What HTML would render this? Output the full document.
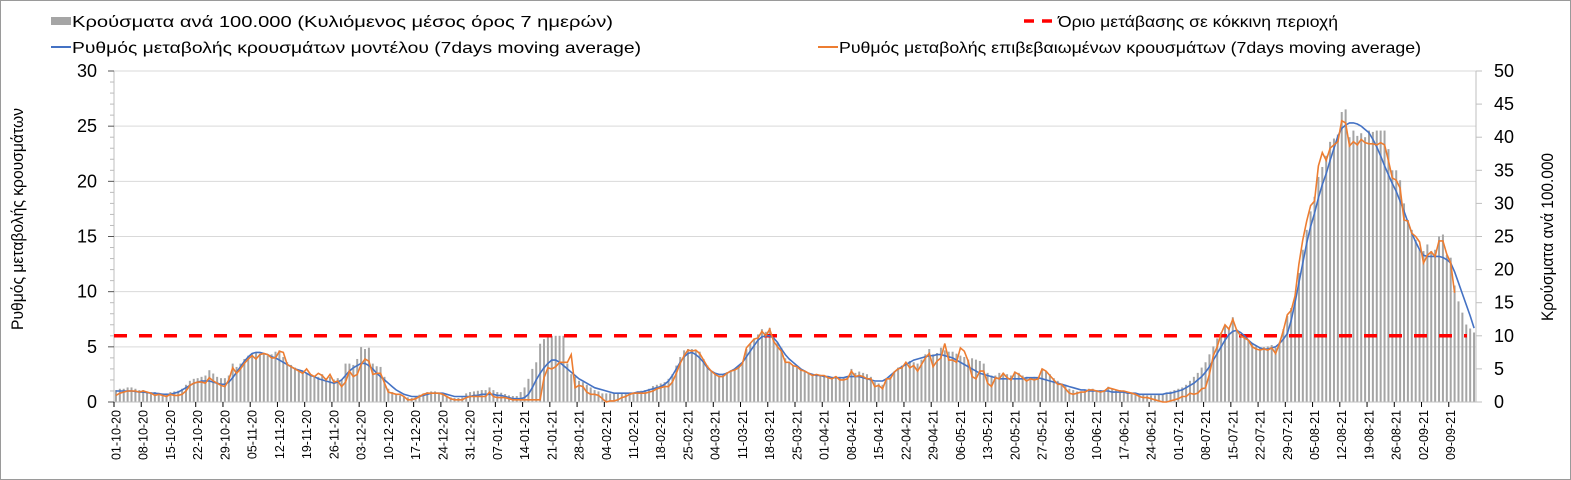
<!DOCTYPE html>
<html><head><meta charset="utf-8">
<style>
html,body{margin:0;padding:0;background:#fff;}
#wrap{position:relative;width:1571px;height:480px;box-sizing:border-box;border:1px solid #9a9a9a;overflow:hidden;font-family:"Liberation Sans",sans-serif;}
svg text{font-family:"Liberation Sans",sans-serif;}
</style></head>
<body>
<div id="wrap">
<svg id="chart" width="1571" height="480"></svg>
</div>
<script>
const blue=[1.0,1.0,1.0,1.0,1.0,0.95,0.9, 0.9,0.85,0.8,0.8,0.75,0.7,0.7, 0.7,0.8,0.9,1.1,1.3,1.5,1.7, 1.8,1.9,1.9,1.9,1.8,1.7,1.6, 1.6,1.8,2.2,2.7,3.2,3.7,4.1, 4.4,4.5,4.5,4.4,4.3,4.1,4.0, 3.8,3.6,3.4,3.2,3.0,2.9,2.8, 2.6,2.4,2.3,2.1,2.0,1.9,1.8, 1.7,1.8,2.0,2.4,2.8,3.1,3.3, 3.5,3.5,3.3,3.0,2.6,2.3,2.0, 1.7,1.4,1.1,0.9,0.7,0.6,0.5, 0.5,0.5,0.6,0.7,0.8,0.8,0.8, 0.8,0.7,0.6,0.5,0.5,0.5,0.5, 0.5,0.6,0.6,0.7,0.7,0.7,0.7, 0.6,0.6,0.5,0.4,0.3,0.3,0.3, 0.4,0.7,1.3,2.0,2.6,3.1,3.5, 3.8,3.8,3.6,3.3,3.0,2.7,2.4, 2.1,1.9,1.7,1.5,1.3,1.2,1.1, 1.0,0.9,0.8,0.8,0.8,0.8,0.8, 0.8,0.9,0.9,1.0,1.1,1.2,1.3, 1.4,1.6,1.9,2.4,3.0,3.6,4.1, 4.4,4.5,4.3,4.0,3.6,3.1,2.8, 2.6,2.5,2.5,2.6,2.8,3.0,3.3, 3.6,4.1,4.6,5.1,5.6,5.9,6.0, 6.0,5.8,5.4,4.8,4.3,3.9,3.6, 3.3,3.0,2.8,2.6,2.5,2.4,2.4, 2.3,2.3,2.2,2.2,2.2,2.2,2.3, 2.3,2.3,2.3,2.2,2.1,2.0,1.9, 1.9,1.9,2.1,2.4,2.7,3.0,3.2, 3.4,3.6,3.8,3.9,4.0,4.1,4.2, 4.2,4.3,4.3,4.2,4.1,4.0,3.8, 3.6,3.4,3.2,3.0,2.8,2.6,2.5, 2.4,2.3,2.2,2.1,2.1,2.1,2.1, 2.1,2.1,2.1,2.2,2.2,2.2,2.2, 2.1,2.0,1.9,1.8,1.7,1.6,1.5, 1.4,1.3,1.2,1.1,1.1,1.0,1.0, 1.0,1.0,1.0,1.0,0.9,0.9,0.9, 0.9,0.8,0.8,0.8,0.7,0.7,0.7, 0.7,0.7,0.7,0.7,0.8,0.8,0.9, 1.0,1.1,1.3,1.5,1.7,2.0,2.3, 2.7,3.2,3.8,4.4,5.0,5.6,6.1, 6.4,6.5,6.3,6.0,5.6,5.3,5.1, 4.9,4.8,4.8,4.9,5.0,5.3,5.7, 6.2,7.4,9.0,10.8,12.6,14.4,15.9, 17.1,18.5,19.7,20.7,21.9,23.0,24.1, 24.8,25.1,25.3,25.3,25.2,25.0,24.7, 24.4,23.8,23.1,22.3,21.4,20.6,19.8, 19.1,18.2,17.3,16.3,15.3,14.5,13.8, 13.3,13.2,13.2,13.2,13.2,13.1,12.9, 12.6,11.8,10.8,9.8,8.8,7.8,6.7];
const orange=[0.6,0.8,0.9,1.0,1.0,1.0,0.9, 1.0,0.9,0.8,0.6,0.7,0.6,0.5, 0.7,0.6,0.6,0.7,1.0,1.5,1.7, 1.8,1.8,1.7,2.2,1.9,1.7,1.5, 1.4,2.0,3.1,2.6,3.0,3.5,3.9, 4.2,3.9,4.3,4.4,4.3,4.0,4.0, 4.6,4.5,3.4,3.2,3.0,2.8,2.6, 3.0,2.5,2.3,2.6,2.4,2.0,2.5, 1.8,1.9,1.4,1.8,2.8,2.3,2.5, 3.4,3.9,3.7,2.5,2.6,2.6,1.7, 0.9,0.8,0.7,0.7,0.5,0.2,0.2, 0.3,0.5,0.7,0.8,0.8,0.8,0.8, 0.7,0.5,0.3,0.2,0.2,0.2,0.4, 0.5,0.5,0.5,0.5,0.5,0.9,0.5, 0.4,0.4,0.4,0.3,0.2,0.2,0.2, 0.2,0.2,0.2,0.2,0.2,2.2,3.1, 3.0,3.2,3.6,3.6,3.6,4.3,1.3, 1.5,1.4,0.9,0.7,0.7,0.6,0.3, 0.0,0.1,0.1,0.2,0.4,0.5,0.7, 0.8,0.8,0.8,0.8,0.9,1.0,1.2, 1.3,1.4,1.4,1.8,2.6,3.5,4.2, 4.7,4.6,4.7,4.4,3.8,3.2,2.8, 2.5,2.3,2.3,2.6,2.8,2.9,3.1, 3.5,4.9,5.3,5.7,5.8,6.4,6.0, 6.6,5.5,5.0,4.6,3.6,3.6,3.3, 3.2,2.9,2.8,2.6,2.4,2.5,2.4, 2.4,2.2,2.1,2.3,2.0,2.0,2.1, 2.8,2.3,2.4,2.3,2.1,2.1,1.4, 1.5,1.2,2.1,2.1,2.7,3.0,3.1, 3.6,3.1,3.3,2.8,3.4,4.0,4.4, 3.2,3.7,4.0,5.3,3.8,3.8,3.6, 4.9,4.6,3.7,2.3,2.1,2.8,2.8, 1.7,1.4,2.2,2.1,2.6,2.2,2.0, 2.7,2.5,2.2,1.9,2.1,2.0,2.1, 3.0,2.8,2.4,2.0,1.6,1.6,1.2, 0.8,0.7,0.8,0.9,0.9,1.1,1.1, 1.0,0.9,1.0,1.3,1.2,1.1,1.0, 1.0,0.9,0.8,0.7,0.5,0.4,0.4, 0.3,0.2,0.1,0.0,0.0,0.1,0.2, 0.3,0.5,0.5,0.8,0.7,0.8,1.2, 1.3,2.5,4.2,5.0,6.2,7.0,6.6, 7.5,6.5,6.0,5.8,5.6,5.0,4.8, 4.7,4.8,4.7,4.9,4.4,5.3,6.5, 7.9,8.3,9.6,12.5,14.7,16.4,17.8, 18.2,21.4,22.6,21.9,23.0,23.3,23.6, 25.5,25.3,23.2,23.6,23.3,23.8,23.5, 23.4,23.4,23.3,23.5,23.3,21.9,20.3, 20.1,19.4,16.5,16.4,15.3,15.0,14.5, 12.6,13.3,13.6,13.2,14.6,14.6,13.4, 12.6,9.9];
const bars=[1.8,2.0,2.0,2.2,2.2,2.0,1.8, 1.8,1.6,1.5,1.5,1.4,1.3,1.3, 1.5,1.6,1.7,2.0,2.6,3.2,3.5, 3.6,3.8,4.0,4.8,4.3,3.8,3.6, 3.6,4.0,5.8,5.3,5.8,6.5,7.0, 7.3,7.5,7.3,7.4,7.0,7.2,7.6, 7.8,6.8,6.0,5.6,5.2,4.8,4.6, 4.4,4.2,4.0,3.8,4.2,3.6,3.8, 3.4,3.6,3.4,5.8,5.8,5.6,6.5, 8.3,8.0,8.2,5.8,5.4,5.3,3.8, 2.0,1.5,1.2,1.0,0.8,0.7,0.6, 0.9,1.1,1.3,1.5,1.6,1.6,1.4, 1.2,0.9,0.7,0.6,0.6,0.7,1.3, 1.5,1.6,1.7,1.8,1.8,2.2,1.8, 1.5,1.4,1.2,1.0,0.9,0.9,1.5, 2.2,3.5,5.0,6.0,8.8,9.5,9.8, 10.0,10.0,10.0,10.0,5.8,4.2,3.8, 3.2,3.0,2.6,2.2,1.8,1.6,1.3, 1.3,1.3,1.3,1.3,1.3,1.3,1.3, 1.4,1.5,1.7,1.8,2.0,2.4,2.6, 2.8,3.0,3.5,4.2,5.5,6.8,7.8, 8.0,8.0,7.8,7.6,6.5,5.5,4.6, 4.2,4.0,4.1,4.5,4.8,5.0,5.5, 6.0,8.0,8.8,9.6,10.2,11.0,10.6, 11.2,9.8,9.0,8.2,6.6,6.0,5.6, 5.2,5.0,4.7,4.4,4.2,4.2,4.0, 3.9,3.8,3.8,3.9,3.8,3.7,3.8, 5.0,4.4,4.6,4.4,4.2,3.8,3.0, 2.8,2.6,3.4,3.8,4.6,5.2,5.5, 5.8,6.2,6.0,5.8,6.4,7.2,8.0, 7.2,7.4,8.2,7.8,7.6,7.6,7.3, 7.0,6.8,6.4,6.6,6.4,6.2,5.8, 4.4,4.0,4.0,4.4,4.4,4.2,4.0, 4.6,4.4,4.0,3.8,3.6,3.8,3.6, 5.0,4.6,4.2,3.6,3.2,2.8,2.6, 2.0,1.8,1.6,1.6,1.8,2.0,2.0, 1.8,1.8,1.8,2.3,2.0,1.8,1.8, 1.6,1.5,1.4,1.3,1.2,1.1,1.0, 1.0,1.0,1.1,1.2,1.4,1.6,1.8, 2.0,2.2,2.6,3.2,3.8,4.4,5.2, 6.0,7.2,8.4,9.6,10.5,11.5,11.2, 12.8,11.0,10.2,9.8,9.4,8.8,8.4, 8.2,8.3,8.4,8.6,8.2,9.0,11.0, 13.0,14.2,15.8,19.5,23.0,26.0,28.8, 31.0,34.0,35.5,37.2,39.3,39.8,40.4, 43.8,44.2,40.0,41.0,40.2,40.6,40.0, 41.0,40.8,41.0,41.0,41.0,38.2,35.0, 35.0,33.5,30.0,27.5,26.0,24.5,23.0, 22.8,23.8,22.8,23.0,25.0,25.3,22.2, 21.8,17.6,15.2,13.5,11.7,11.1,10.5];
const leftTicks=[0,5,10,15,20,25,30];
const rightTicks=[0,5,10,15,20,25,30,35,40,45,50];
const threshold=[6];
const startDate=[2020,10,1];

const NS='http://www.w3.org/2000/svg';
const svg=document.getElementById('chart');
const X0=113,X1=1475,Y0=401,Y1=70;
const N=bars.length;
const step=(X1-X0)/N;
const xAt=i=>X0+(i+0.5)*step;
const yL=v=>Y0-(v/30)*(Y0-Y1);
const yR=v=>Y0-(v/50)*(Y0-Y1);
function mk(tag,attrs,parent){const e=document.createElementNS(NS,tag);for(const k in attrs)e.setAttribute(k,attrs[k]);(parent||svg).appendChild(e);return e;}

const grid=mk('g',{});


leftTicks.forEach(v=>{if(v>0){const l=mk('line',{x1:X0,x2:X1,y1:yL(v),y2:yL(v),stroke:'#d9d9d9','stroke-width':1},grid);

}});

const bg=mk('g',{});


bars.forEach((v,i)=>{const r=mk('rect',{x:xAt(i)-1,y:yR(v),width:2,height:Y0-yR(v),fill:'#a5a5a5'},bg);

});

const ax=mk('g',{});


mk('line',{x1:X0,x2:X0,y1:Y1,y2:Y0,stroke:'#bfbfbf'},ax);
mk('line',{x1:X1,x2:X1,y1:Y1,y2:Y0,stroke:'#bfbfbf'},ax);
mk('line',{x1:X0,x2:X1,y1:Y0,y2:Y0,stroke:'#bfbfbf'},ax);
for(let v=0;v<=30;v++){const major=v%5===0;mk('line',{x1:major?X0-6:X0-4,x2:X0,y1:yL(v),y2:yL(v),stroke:major?'#555':'#bbb'},ax);}
leftTicks.forEach(v=>{const t=mk('text',{x:96,y:yL(v)+6,'text-anchor':'end','font-size':18,fill:'#000'},ax);t.textContent=v;

});
rightTicks.forEach(v=>{mk('line',{x1:X1,x2:X1+6,y1:yR(v),y2:yR(v),stroke:'#bfbfbf'},ax);const t=mk('text',{x:1493,y:yR(v)+6,'font-size':18,fill:'#000'},ax);t.textContent=v;

});

const d0=new Date(startDate[0],startDate[1]-1,startDate[2],12);
for(let i=0;i<N;i+=7){
 mk('line',{x1:X0+i*step,x2:X0+i*step,y1:Y0,y2:Y0+5,stroke:'#000'},ax);
 const d=new Date(d0.getTime()+i*86400000);
 const s=String(d.getDate()).padStart(2,'0')+'-'+String(d.getMonth()+1).padStart(2,'0')+'-'+String(d.getFullYear()%100);
 const xx=xAt(i)+0.5;
 const t=mk('text',{x:0,y:0,transform:`translate(${xx+4},${Y0+8}) rotate(-90)`,'text-anchor':'end','font-size':12.5,fill:'#000'},ax);
 t.textContent=s;
 
 
}

const th=mk('line',{x1:X0,x2:1466,y1:yL(threshold[0]),y2:yL(threshold[0]),stroke:'#ff0000','stroke-width':3.5,'stroke-dasharray':'13,12'});



function path(arr){return arr.map((v,i)=>(i?'L':'M')+xAt(i).toFixed(1)+','+yL(v).toFixed(1)).join('');}
const bl=mk('path',{d:path(blue),fill:'none',stroke:'#4472c4','stroke-width':1.6});


const ol=mk('path',{d:path(orange),fill:'none',stroke:'#ed7d31','stroke-width':1.6});



const lt=mk('text',{transform:'translate(22,218) rotate(-90)','text-anchor':'middle','font-size':17,fill:'#000',textLength:222,lengthAdjust:'spacingAndGlyphs'});
lt.textContent='Ρυθμός μεταβολής κρουσμάτων';


const rt=mk('text',{transform:'translate(1552,236) rotate(-90)','text-anchor':'middle','font-size':17,fill:'#000',textLength:168,lengthAdjust:'spacingAndGlyphs'});
rt.textContent='Κρούσματα ανά 100.000';



const lg=mk('g',{});


function entry(name,x,y,sym,color,label,tx,tlen){
 const g=mk('g',{},lg);
 
 
 if(sym==='rect')mk('rect',{x:x,y:y-6,width:20,height:8,fill:color},g);
 else if(sym==='dash'){mk('line',{x1:x,x2:x+10,y1:y-2,y2:y-2,stroke:color,'stroke-width':3.5},g);mk('line',{x1:x+18,x2:x+28,y1:y-2,y2:y-2,stroke:color,'stroke-width':3.5},g);}
 else mk('line',{x1:x,x2:x+20,y1:y-2,y2:y-2,stroke:color,'stroke-width':2},g);
 const t=mk('text',{x:tx,y:y+4,'font-size':16,fill:'#000',textLength:tlen,lengthAdjust:'spacingAndGlyphs'},g);t.textContent=label;
}
entry('legend-cases',50,22,'rect','#a5a5a5','Κρούσματα ανά 100.000 (Κυλιόμενος μέσος όρος 7 ημερών)',71,541);
entry('legend-threshold',1023,22,'dash','#ff0000','Όριο μετάβασης σε κόκκινη περιοχή',1057,280);
entry('legend-model-rate',50,48,'line','#4472c4','Ρυθμός μεταβολής κρουσμάτων μοντέλου (7days moving average)',71,569);
entry('legend-confirmed-rate',817,48,'line','#ed7d31','Ρυθμός μεταβολής επιβεβαιωμένων κρουσμάτων (7days moving average)',838,582);
</script>
</body></html>
